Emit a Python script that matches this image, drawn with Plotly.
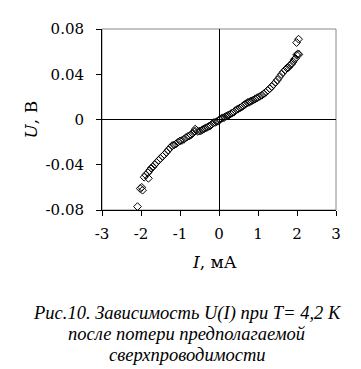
import plotly.graph_objects as go

current_neg = [-0.02, -0.06, -0.10, -0.14, -0.18, -0.22, -0.26, -0.30, -0.34, -0.38,
               -0.42, -0.46, -0.50, -0.54, -0.58, -0.61, -0.64, -0.68, -0.72, -0.76,
               -0.80, -0.85, -0.90, -0.95, -1.00, -1.05, -1.10, -1.15, -1.20, -1.25,
               -1.30, -1.35, -1.40, -1.45, -1.50, -1.55, -1.60, -1.65, -1.70, -1.74,
               -1.78, -1.82, -1.81, -1.88, -1.92, -1.98, -2.02, -1.96, -2.09]
voltage_neg = [-0.0015, -0.002, -0.0025, -0.003, -0.004, -0.0055, -0.006, -0.0068, -0.0075, -0.0082,
               -0.009, -0.0098, -0.0103, -0.0105, -0.0095, -0.0085, -0.0105, -0.0125, -0.0135, -0.0145,
               -0.015, -0.016, -0.0175, -0.0185, -0.019, -0.020, -0.0215, -0.0225, -0.023, -0.025,
               -0.027, -0.029, -0.031, -0.0325, -0.0345, -0.036, -0.038, -0.040, -0.042, -0.043,
               -0.045, -0.047, -0.052, -0.049, -0.051, -0.060, -0.061, -0.0625, -0.077]

current_pos = [0.02, 0.06, 0.10, 0.14, 0.18, 0.22, 0.26, 0.30, 0.34, 0.38,
               0.42, 0.46, 0.50, 0.54, 0.58, 0.62, 0.66, 0.70, 0.74, 0.78,
               0.80, 0.84, 0.88, 0.92, 0.96, 1.00, 1.05, 1.10, 1.15, 1.20,
               1.25, 1.30, 1.35, 1.40, 1.45, 1.50, 1.55, 1.60, 1.65, 1.70,
               1.74, 1.78, 1.82, 1.86, 1.90, 1.93, 1.96, 1.99, 2.02, 2.05,
               1.99, 2.04]
voltage_pos = [0.000, 0.001, 0.0015, 0.002, 0.0028, 0.0035, 0.004, 0.005, 0.0058, 0.0065,
               0.0078, 0.0088, 0.0095, 0.0103, 0.011, 0.0122, 0.0132, 0.0142, 0.015, 0.0155,
               0.016, 0.0165, 0.0172, 0.018, 0.0188, 0.0195, 0.0205, 0.0215, 0.0228, 0.024,
               0.0258, 0.0272, 0.029, 0.031, 0.033, 0.035, 0.0375, 0.040, 0.042, 0.044,
               0.0455, 0.046, 0.048, 0.049, 0.051, 0.053, 0.054, 0.057, 0.058, 0.0575,
               0.068, 0.071]

x_ticks = [-3, -2, -1, 0, 1, 2, 3]
x_labels = ["-3", "-2", "-1", "0", "1", "2", "3"]
y_ticks = [-0.08, -0.04, 0, 0.04, 0.08]
y_labels = ["-0.08", "-0.04", "0", "0.04", "0.08"]

caption_lines = ["Рис.10. Зависимость U(I) при T= 4,2 К",
                 "после потери предполагаемой",
                 "сверхпроводимости"]

axis_font = "DejaVu Serif"
caption_font = "Liberation Serif"

fig = go.Figure()
fig.add_trace(go.Scatter(
    x=current_neg + current_pos, y=voltage_neg + voltage_pos,
    mode="markers",
    marker=dict(symbol="diamond-open", size=6, color="black", line=dict(width=1, color="black")),
    showlegend=False, hoverinfo="skip"))

# gray frame on top/right
fig.add_shape(type="rect", xref="x domain", yref="y domain", x0=0, x1=1, y0=0, y1=1,
              line=dict(color="#888888", width=1), layer="below")

annotations = [
    dict(text="<i>I</i>, мА", xref="paper", yref="paper", x=0.5, y=0, xanchor="center",
         yanchor="middle", xshift=-5, yshift=-52, showarrow=False,
         font=dict(family=axis_font, size=17, color="black")),
    dict(text="<i>U</i>, В", xref="paper", yref="paper", x=0, y=0.5, xanchor="center",
         yanchor="middle", xshift=-72, textangle=-90, showarrow=False,
         font=dict(family=axis_font, size=17, color="black")),
]
for line, shift in zip(caption_lines, [-103, -124, -145]):
    annotations.append(dict(text=line, xref="paper", yref="paper", x=0.5, y=0,
                            xanchor="center", yanchor="middle", showarrow=False,
                            xshift=-32, yshift=shift,
                            font=dict(family=caption_font, size=18.5, color="black",
                                      style="italic")))

fig.update_layout(
    width=361, height=369,
    margin=dict(l=94, r=33, t=21, b=167),
    paper_bgcolor="white", plot_bgcolor="white",
    font=dict(family=axis_font, size=15, color="black"),
    xaxis=dict(range=[-3, 3], tickvals=x_ticks, ticktext=x_labels, ticks="outside", ticklen=5,
               tickcolor="black", ticklabelstandoff=5,
               showgrid=False, showline=True, linecolor="black", linewidth=1,
               zeroline=True, zerolinecolor="black", zerolinewidth=1, automargin=False,
               tickfont=dict(family=axis_font, size=15, color="black")),
    yaxis=dict(range=[-0.08, 0.08], tickvals=y_ticks, ticktext=y_labels, ticks="outside",
               ticklen=5, tickcolor="black", automargin=False, ticklabelstandoff=9,
               showgrid=False, showline=True, linecolor="black", linewidth=1,
               zeroline=True, zerolinecolor="black", zerolinewidth=1,
               tickfont=dict(family=axis_font, size=15, color="black")),
    annotations=annotations,
)

fig.write_html("out.html")
